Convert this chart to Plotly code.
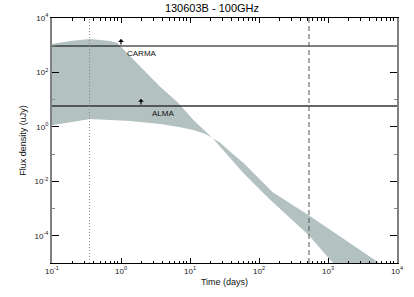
import math
import plotly.graph_objects as go

# ---- data ----
# model A: bright early, steep decay (upper edge early, lower edge late)
t_a = [0.1, 0.183, 0.356, 0.697, 0.881, 1.23, 2.10, 3.72, 6.56, 11.2, 21.2, 35.0, 59.7, 105, 148, 526, 1175, 2143]
f_a = [1107, 1426, 1690, 1426, 1205, 516, 122, 29.0, 8.17, 1.78, 0.387, 0.0918, 0.0200, 0.00474, 0.00204, 1.05e-4, 9.8e-6, 1.8e-6]
# model B: faint early, shallower decay (lower edge early, upper edge late)
t_b = [0.1, 0.183, 0.356, 1.36, 3.72, 7.24, 11.2, 16.7, 21.2, 27.7, 38.6, 59.7, 105, 158, 526, 5297, 10000]
f_b = [1.16, 1.50, 1.94, 1.63, 1.27, 0.98, 0.762, 0.543, 0.387, 0.254, 0.1186, 0.0467, 0.01107, 0.00401, 5.71e-4, 1.07e-5, 3.6e-6]

instruments = ["CARMA", "ALMA"]
limits = [935, 5.9]          # uJy
limit_times = [1.0, 1.95]    # days (arrow positions)
label_times = [1.15, 2.65]   # days (label start)

t_dotted = 0.35
t_dashed = 530

x_range = [0.1, 1e4]
y_range = [1e-5, 1e4]
x_ticks = [0.1, 1, 10, 100, 1000, 10000]
x_ticktext = ["10<sup>-1</sup>", "10<sup>0</sup>", "10<sup>1</sup>", "10<sup>2</sup>", "10<sup>3</sup>", "10<sup>4</sup>"]
y_ticks = [1e-4, 1e-2, 1, 1e2, 1e4]
y_ticktext = ["10<sup>-4</sup>", "10<sup>-2</sup>", "10<sup>0</sup>", "10<sup>2</sup>", "10<sup>4</sup>"]
x_minor = [m * 10 ** e for e in range(-1, 4) for m in range(2, 10)]
y_minor = [1e-5, 1e-3, 1e-1, 1e1, 1e3]

FONT = "Liberation Sans, Arial, sans-serif"

fig = go.Figure()

# band polygon: model A forward, model B backward
fig.add_trace(go.Scatter(
    x=t_a + t_b[::-1], y=f_a + f_b[::-1],
    fill="toself", fillcolor="#b3c1c1", mode="lines",
    line=dict(width=0, color="#b3c1c1"), hoverinfo="skip", showlegend=False))

# limits
for lim, col, w in zip(limits, ["#000000", "#333333"], [1.1, 1.5]):
    fig.add_trace(go.Scatter(x=x_range, y=[lim, lim], mode="lines",
                             line=dict(color=col, width=w), showlegend=False))

# vertical markers
fig.add_trace(go.Scatter(x=[t_dotted, t_dotted], y=y_range, mode="lines",
                         line=dict(color="#888888", width=1, dash="1px,2px"), showlegend=False))
fig.add_trace(go.Scatter(x=[t_dashed, t_dashed], y=y_range, mode="lines",
                         line=dict(color="#555555", width=1, dash="5px,3px"), showlegend=False))

annotations = []
for name, lim, ta, tl in zip(instruments, limits, limit_times, label_times):
    annotations.append(dict(x=math.log10(ta), y=math.log10(lim), xref="x", yref="y",
                            ax=0, ay=7, yshift=7, text="", showarrow=True,
                            arrowhead=1, arrowsize=0.8, arrowwidth=1.2, arrowcolor="#000000"))
    annotations.append(dict(x=math.log10(tl), y=math.log10(lim), xref="x", yref="y",
                            text=name, showarrow=False, xanchor="left", yanchor="top",
                            yshift=-1, font=dict(family=FONT, size=8, color="#111111")))

fig.update_layout(
    width=414, height=297,
    margin=dict(l=52, r=17, t=18, b=34),
    paper_bgcolor="white", plot_bgcolor="white",
    title=dict(text="130603B - 100GHz", x=0.512, xref="container", xanchor="center",
               y=0.972, yref="container", yanchor="middle",
               font=dict(family=FONT, size=11, color="#000000")),
    annotations=annotations,
    showlegend=False,
)

fig.update_xaxes(
    type="log", range=[math.log10(x_range[0]), math.log10(x_range[1])],
    showgrid=False, zeroline=False,
    showline=True, linecolor="#000000", linewidth=1, mirror="allticks",
    ticks="inside", ticklen=5, tickcolor="#000000", tickwidth=1,
    tickvals=x_ticks, ticktext=x_ticktext,
    tickfont=dict(family=FONT, size=8, color="#222222"),
    minor=dict(tickvals=x_minor, ticks="inside", ticklen=2.5, tickcolor="#000000", tickwidth=1),
    title=dict(text="Time (days)", font=dict(family=FONT, size=9, color="#111111"), standoff=4),
)
fig.update_yaxes(
    type="log", range=[math.log10(y_range[0]), math.log10(y_range[1])],
    showgrid=False, zeroline=False,
    showline=True, linecolor="#808080", linewidth=2, mirror="allticks",
    ticks="inside", ticklen=7, tickcolor="#000000", tickwidth=1,
    tickvals=y_ticks, ticktext=y_ticktext,
    tickfont=dict(family=FONT, size=8, color="#222222"),
    minor=dict(tickvals=y_minor, ticks="inside", ticklen=3, tickcolor="#888888", tickwidth=1),
    title=dict(text="Flux density (uJy)", font=dict(family=FONT, size=9, color="#111111"), standoff=6),
)

fig.write_html("out.html", config={"displayModeBar": False},
               post_script="document.body.style.margin='0';")
